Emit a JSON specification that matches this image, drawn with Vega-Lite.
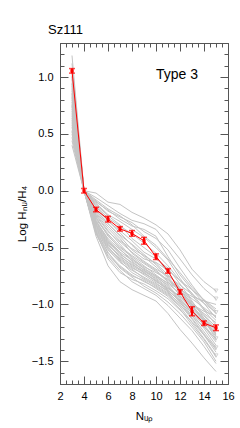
{
  "$schema": "https://vega.github.io/schema/vega-lite/v6.json",
  "width": 168,
  "height": 341,
  "autosize": {"type": "none"},
  "padding": {"left": 60, "top": 43, "right": 12, "bottom": 44},
  "background": "white",
  "config": {
    "font": "Liberation Sans",
    "view": {"stroke": null},
    "axis": {
      "domain": true,
      "domainColor": "#555555",
      "domainWidth": 1,
      "ticks": true,
      "tickColor": "#555555",
      "tickWidth": 1,
      "minExtent": 0,
      "zindex": 1,
      "labelColor": "#000000",
      "titleColor": "#000000",
      "labelFont": "Liberation Sans",
      "titleFont": "Liberation Sans",
      "labelFontSize": 11,
      "titleFontSize": 11.5,
      "titleFontWeight": "normal",
      "grid": false,
      "labelOverlap": false,
      "labelFlush": false
    }
  },
  "datasets": {
    "gray": [
      {"l":1,"n":3,"v":1.19},{"l":1,"n":4,"v":0},{"l":1,"n":5,"v":-0.02},{"l":1,"n":6,"v":-0.10},{"l":1,"n":7,"v":-0.12},{"l":1,"n":8,"v":-0.19},{"l":1,"n":9,"v":-0.24},{"l":1,"n":10,"v":-0.30},{"l":1,"n":11,"v":-0.38},{"l":1,"n":12,"v":-0.52},{"l":1,"n":13,"v":-0.69},{"l":1,"n":14,"v":-0.80},{"l":1,"n":15,"v":-0.88},
      {"l":2,"n":3,"v":1.12},{"l":2,"n":4,"v":0},{"l":2,"n":5,"v":-0.06},{"l":2,"n":6,"v":-0.13},{"l":2,"n":7,"v":-0.20},{"l":2,"n":8,"v":-0.26},{"l":2,"n":9,"v":-0.29},{"l":2,"n":10,"v":-0.34},{"l":2,"n":11,"v":-0.47},{"l":2,"n":12,"v":-0.60},{"l":2,"n":13,"v":-0.74},{"l":2,"n":14,"v":-0.86},{"l":2,"n":15,"v":-0.95},
      {"l":3,"n":3,"v":1.08},{"l":3,"n":4,"v":0},{"l":3,"n":5,"v":-0.09},{"l":3,"n":6,"v":-0.18},{"l":3,"n":7,"v":-0.23},{"l":3,"n":8,"v":-0.28},{"l":3,"n":9,"v":-0.36},{"l":3,"n":10,"v":-0.42},{"l":3,"n":11,"v":-0.52},{"l":3,"n":12,"v":-0.68},{"l":3,"n":13,"v":-0.83},{"l":3,"n":14,"v":-0.97},{"l":3,"n":15,"v":-1.08},
      {"l":4,"n":3,"v":0.72},{"l":4,"n":4,"v":0},{"l":4,"n":5,"v":-0.11},{"l":4,"n":6,"v":-0.21},{"l":4,"n":7,"v":-0.27},{"l":4,"n":8,"v":-0.34},{"l":4,"n":9,"v":-0.41},{"l":4,"n":10,"v":-0.50},{"l":4,"n":11,"v":-0.61},{"l":4,"n":12,"v":-0.77},{"l":4,"n":13,"v":-0.92},{"l":4,"n":14,"v":-1.05},{"l":4,"n":15,"v":-1.18},
      {"l":5,"n":3,"v":1.01},{"l":5,"n":4,"v":0},{"l":5,"n":5,"v":-0.13},{"l":5,"n":6,"v":-0.24},{"l":5,"n":7,"v":-0.31},{"l":5,"n":8,"v":-0.38},{"l":5,"n":9,"v":-0.46},{"l":5,"n":10,"v":-0.55},{"l":5,"n":11,"v":-0.66},{"l":5,"n":12,"v":-0.79},{"l":5,"n":13,"v":-0.90},{"l":5,"n":14,"v":-1.04},{"l":5,"n":15,"v":-1.14},
      {"l":6,"n":3,"v":0.66},{"l":6,"n":4,"v":0},{"l":6,"n":5,"v":-0.18},{"l":6,"n":6,"v":-0.29},{"l":6,"n":7,"v":-0.40},{"l":6,"n":8,"v":-0.52},{"l":6,"n":9,"v":-0.60},{"l":6,"n":10,"v":-0.63},{"l":6,"n":11,"v":-0.70},{"l":6,"n":12,"v":-0.79},{"l":6,"n":13,"v":-0.87},{"l":6,"n":14,"v":-0.96},{"l":6,"n":15,"v":-1.04},
      {"l":7,"n":3,"v":0.95},{"l":7,"n":4,"v":0},{"l":7,"n":5,"v":-0.20},{"l":7,"n":6,"v":-0.33},{"l":7,"n":7,"v":-0.44},{"l":7,"n":8,"v":-0.51},{"l":7,"n":9,"v":-0.57},{"l":7,"n":10,"v":-0.64},{"l":7,"n":11,"v":-0.74},{"l":7,"n":12,"v":-0.85},{"l":7,"n":13,"v":-0.98},{"l":7,"n":14,"v":-1.09},{"l":7,"n":15,"v":-1.20},
      {"l":8,"n":3,"v":0.58},{"l":8,"n":4,"v":0},{"l":8,"n":5,"v":-0.22},{"l":8,"n":6,"v":-0.36},{"l":8,"n":7,"v":-0.45},{"l":8,"n":8,"v":-0.54},{"l":8,"n":9,"v":-0.62},{"l":8,"n":10,"v":-0.69},{"l":8,"n":11,"v":-0.75},{"l":8,"n":12,"v":-0.83},{"l":8,"n":13,"v":-0.91},{"l":8,"n":14,"v":-0.99},{"l":8,"n":15,"v":-1.07},
      {"l":9,"n":3,"v":0.88},{"l":9,"n":4,"v":0},{"l":9,"n":5,"v":-0.24},{"l":9,"n":6,"v":-0.38},{"l":9,"n":7,"v":-0.49},{"l":9,"n":8,"v":-0.57},{"l":9,"n":9,"v":-0.64},{"l":9,"n":10,"v":-0.71},{"l":9,"n":11,"v":-0.80},{"l":9,"n":12,"v":-0.92},{"l":9,"n":13,"v":-1.05},{"l":9,"n":14,"v":-1.19},{"l":9,"n":15,"v":-1.33},
      {"l":10,"n":3,"v":0.53},{"l":10,"n":4,"v":0},{"l":10,"n":5,"v":-0.27},{"l":10,"n":6,"v":-0.42},{"l":10,"n":7,"v":-0.52},{"l":10,"n":8,"v":-0.60},{"l":10,"n":9,"v":-0.67},{"l":10,"n":10,"v":-0.72},{"l":10,"n":11,"v":-0.78},{"l":10,"n":12,"v":-0.86},{"l":10,"n":13,"v":-0.95},{"l":10,"n":14,"v":-1.03},{"l":10,"n":15,"v":-1.11},
      {"l":11,"n":3,"v":0.82},{"l":11,"n":4,"v":0},{"l":11,"n":5,"v":-0.28},{"l":11,"n":6,"v":-0.45},{"l":11,"n":7,"v":-0.56},{"l":11,"n":8,"v":-0.63},{"l":11,"n":9,"v":-0.70},{"l":11,"n":10,"v":-0.76},{"l":11,"n":11,"v":-0.83},{"l":11,"n":12,"v":-0.95},{"l":11,"n":13,"v":-1.08},{"l":11,"n":14,"v":-1.21},{"l":11,"n":15,"v":-1.36},
      {"l":12,"n":3,"v":0.50},{"l":12,"n":4,"v":0},{"l":12,"n":5,"v":-0.30},{"l":12,"n":6,"v":-0.47},{"l":12,"n":7,"v":-0.58},{"l":12,"n":8,"v":-0.65},{"l":12,"n":9,"v":-0.71},{"l":12,"n":10,"v":-0.77},{"l":12,"n":11,"v":-0.85},{"l":12,"n":12,"v":-0.93},{"l":12,"n":13,"v":-1.02},{"l":12,"n":14,"v":-1.12},{"l":12,"n":15,"v":-1.23},
      {"l":13,"n":3,"v":0.78},{"l":13,"n":4,"v":0},{"l":13,"n":5,"v":-0.32},{"l":13,"n":6,"v":-0.50},{"l":13,"n":7,"v":-0.60},{"l":13,"n":8,"v":-0.68},{"l":13,"n":9,"v":-0.73},{"l":13,"n":10,"v":-0.79},{"l":13,"n":11,"v":-0.87},{"l":13,"n":12,"v":-0.98},{"l":13,"n":13,"v":-1.12},{"l":13,"n":14,"v":-1.26},{"l":13,"n":15,"v":-1.40},
      {"l":14,"n":3,"v":0.47},{"l":14,"n":4,"v":0},{"l":14,"n":5,"v":-0.34},{"l":14,"n":6,"v":-0.52},{"l":14,"n":7,"v":-0.63},{"l":14,"n":8,"v":-0.70},{"l":14,"n":9,"v":-0.76},{"l":14,"n":10,"v":-0.82},{"l":14,"n":11,"v":-0.88},{"l":14,"n":12,"v":-0.96},{"l":14,"n":13,"v":-1.05},{"l":14,"n":14,"v":-1.15},{"l":14,"n":15,"v":-1.26},
      {"l":15,"n":3,"v":0.75},{"l":15,"n":4,"v":0},{"l":15,"n":5,"v":-0.36},{"l":15,"n":6,"v":-0.55},{"l":15,"n":7,"v":-0.66},{"l":15,"n":8,"v":-0.74},{"l":15,"n":9,"v":-0.80},{"l":15,"n":10,"v":-0.85},{"l":15,"n":11,"v":-0.92},{"l":15,"n":12,"v":-1.02},{"l":15,"n":13,"v":-1.16},{"l":15,"n":14,"v":-1.30},{"l":15,"n":15,"v":-1.45},
      {"l":16,"n":3,"v":0.40},{"l":16,"n":4,"v":0},{"l":16,"n":5,"v":-0.37},{"l":16,"n":6,"v":-0.60},{"l":16,"n":7,"v":-0.72},{"l":16,"n":8,"v":-0.78},{"l":16,"n":9,"v":-0.82},{"l":16,"n":10,"v":-0.88},{"l":16,"n":11,"v":-0.95},{"l":16,"n":12,"v":-1.05},{"l":16,"n":13,"v":-1.15},{"l":16,"n":14,"v":-1.27},{"l":16,"n":15,"v":-1.38},
      {"l":17,"n":3,"v":0.62},{"l":17,"n":4,"v":0},{"l":17,"n":5,"v":-0.40},{"l":17,"n":6,"v":-0.66},{"l":17,"n":7,"v":-0.80},{"l":17,"n":8,"v":-0.87},{"l":17,"n":9,"v":-0.92},{"l":17,"n":10,"v":-0.97},{"l":17,"n":11,"v":-1.08},{"l":17,"n":12,"v":-1.22},{"l":17,"n":13,"v":-1.34},{"l":17,"n":14,"v":-1.47},{"l":17,"n":15,"v":-1.59},
      {"l":18,"n":3,"v":0.70},{"l":18,"n":4,"v":0},{"l":18,"n":5,"v":-0.16},{"l":18,"n":6,"v":-0.27},{"l":18,"n":7,"v":-0.35},{"l":18,"n":8,"v":-0.44},{"l":18,"n":9,"v":-0.54},{"l":18,"n":10,"v":-0.60},{"l":18,"n":11,"v":-0.68},{"l":18,"n":12,"v":-0.82},{"l":18,"n":13,"v":-0.97},{"l":18,"n":14,"v":-1.12},{"l":18,"n":15,"v":-1.27},
      {"l":19,"n":3,"v":0.92},{"l":19,"n":4,"v":0},{"l":19,"n":5,"v":-0.14},{"l":19,"n":6,"v":-0.26},{"l":19,"n":7,"v":-0.37},{"l":19,"n":8,"v":-0.48},{"l":19,"n":9,"v":-0.58},{"l":19,"n":10,"v":-0.67},{"l":19,"n":11,"v":-0.77},{"l":19,"n":12,"v":-0.89},{"l":19,"n":13,"v":-1.02},{"l":19,"n":14,"v":-1.15},{"l":19,"n":15,"v":-1.28},
      {"l":20,"n":3,"v":0.85},{"l":20,"n":4,"v":0},{"l":20,"n":5,"v":-0.19},{"l":20,"n":6,"v":-0.31},{"l":20,"n":7,"v":-0.42},{"l":20,"n":8,"v":-0.55},{"l":20,"n":9,"v":-0.63},{"l":20,"n":10,"v":-0.70},{"l":20,"n":11,"v":-0.79},{"l":20,"n":12,"v":-0.88},{"l":20,"n":13,"v":-0.99},{"l":20,"n":14,"v":-1.10},{"l":20,"n":15,"v":-1.22},
      {"l":21,"n":3,"v":0.60},{"l":21,"n":4,"v":0},{"l":21,"n":5,"v":-0.23},{"l":21,"n":6,"v":-0.40},{"l":21,"n":7,"v":-0.50},{"l":21,"n":8,"v":-0.58},{"l":21,"n":9,"v":-0.66},{"l":21,"n":10,"v":-0.74},{"l":21,"n":11,"v":-0.82},{"l":21,"n":12,"v":-0.90},{"l":21,"n":13,"v":-1.00},{"l":21,"n":14,"v":-1.08},{"l":21,"n":15,"v":-1.16},
      {"l":22,"n":3,"v":0.98},{"l":22,"n":4,"v":0},{"l":22,"n":5,"v":-0.26},{"l":22,"n":6,"v":-0.43},{"l":22,"n":7,"v":-0.54},{"l":22,"n":8,"v":-0.61},{"l":22,"n":9,"v":-0.68},{"l":22,"n":10,"v":-0.75},{"l":22,"n":11,"v":-0.84},{"l":22,"n":12,"v":-0.97},{"l":22,"n":13,"v":-1.10},{"l":22,"n":14,"v":-1.24},{"l":22,"n":15,"v":-1.38},
      {"l":23,"n":3,"v":0.56},{"l":23,"n":4,"v":0},{"l":23,"n":5,"v":-0.29},{"l":23,"n":6,"v":-0.46},{"l":23,"n":7,"v":-0.59},{"l":23,"n":8,"v":-0.67},{"l":23,"n":9,"v":-0.74},{"l":23,"n":10,"v":-0.81},{"l":23,"n":11,"v":-0.89},{"l":23,"n":12,"v":-1.00},{"l":23,"n":13,"v":-1.13},{"l":23,"n":14,"v":-1.27},{"l":23,"n":15,"v":-1.42},
      {"l":24,"n":3,"v":0.80},{"l":24,"n":4,"v":0},{"l":24,"n":5,"v":-0.31},{"l":24,"n":6,"v":-0.49},{"l":24,"n":7,"v":-0.62},{"l":24,"n":8,"v":-0.72},{"l":24,"n":9,"v":-0.78},{"l":24,"n":10,"v":-0.84},{"l":24,"n":11,"v":-0.91},{"l":24,"n":12,"v":-1.01},{"l":24,"n":13,"v":-1.10},{"l":24,"n":14,"v":-1.20},{"l":24,"n":15,"v":-1.30},
      {"l":25,"n":3,"v":0.68},{"l":25,"n":4,"v":0},{"l":25,"n":5,"v":-0.35},{"l":25,"n":6,"v":-0.54},{"l":25,"n":7,"v":-0.68},{"l":25,"n":8,"v":-0.76},{"l":25,"n":9,"v":-0.84},{"l":25,"n":10,"v":-0.90},{"l":25,"n":11,"v":-0.98},{"l":25,"n":12,"v":-1.08},{"l":25,"n":13,"v":-1.20},{"l":25,"n":14,"v":-1.33},{"l":25,"n":15,"v":-1.50},
      {"l":26,"n":3,"v":1.04},{"l":26,"n":4,"v":0},{"l":26,"n":5,"v":-0.10},{"l":26,"n":6,"v":-0.17},{"l":26,"n":7,"v":-0.25},{"l":26,"n":8,"v":-0.31},{"l":26,"n":9,"v":-0.34},{"l":26,"n":10,"v":-0.40},{"l":26,"n":11,"v":-0.58},{"l":26,"n":12,"v":-0.74},{"l":26,"n":13,"v":-0.87},{"l":26,"n":14,"v":-0.99},{"l":26,"n":15,"v":-1.12},
      {"l":27,"n":3,"v":0.64},{"l":27,"n":4,"v":0},{"l":27,"n":5,"v":-0.21},{"l":27,"n":6,"v":-0.35},{"l":27,"n":7,"v":-0.47},{"l":27,"n":8,"v":-0.59},{"l":27,"n":9,"v":-0.69},{"l":27,"n":10,"v":-0.75},{"l":27,"n":11,"v":-0.81},{"l":27,"n":12,"v":-0.87},{"l":27,"n":13,"v":-0.93},{"l":27,"n":14,"v":-0.97},{"l":27,"n":15,"v":-1.00},
      {"l":28,"n":3,"v":0.90},{"l":28,"n":4,"v":0},{"l":28,"n":5,"v":-0.25},{"l":28,"n":6,"v":-0.39},{"l":28,"n":7,"v":-0.51},{"l":28,"n":8,"v":-0.62},{"l":28,"n":9,"v":-0.70},{"l":28,"n":10,"v":-0.78},{"l":28,"n":11,"v":-0.86},{"l":28,"n":12,"v":-0.94},{"l":28,"n":13,"v":-1.04},{"l":28,"n":14,"v":-1.13},{"l":28,"n":15,"v":-1.24},
      {"l":29,"n":3,"v":0.52},{"l":29,"n":4,"v":0},{"l":29,"n":5,"v":-0.33},{"l":29,"n":6,"v":-0.51},{"l":29,"n":7,"v":-0.61},{"l":29,"n":8,"v":-0.69},{"l":29,"n":9,"v":-0.77},{"l":29,"n":10,"v":-0.83},{"l":29,"n":11,"v":-0.90},{"l":29,"n":12,"v":-0.99},{"l":29,"n":13,"v":-1.07},{"l":29,"n":14,"v":-1.18},{"l":29,"n":15,"v":-1.31},
      {"l":30,"n":3,"v":0.76},{"l":30,"n":4,"v":0},{"l":30,"n":5,"v":-0.38},{"l":30,"n":6,"v":-0.58},{"l":30,"n":7,"v":-0.70},{"l":30,"n":8,"v":-0.80},{"l":30,"n":9,"v":-0.86},{"l":30,"n":10,"v":-0.92},{"l":30,"n":11,"v":-1.01},{"l":30,"n":12,"v":-1.12},{"l":30,"n":13,"v":-1.23},{"l":30,"n":14,"v":-1.37},{"l":30,"n":15,"v":-1.52},
      {"l":31,"n":3,"v":0.86},{"l":31,"n":4,"v":0},{"l":31,"n":5,"v":-0.12},{"l":31,"n":6,"v":-0.22},{"l":31,"n":7,"v":-0.30},{"l":31,"n":8,"v":-0.42},{"l":31,"n":9,"v":-0.50},{"l":31,"n":10,"v":-0.58},{"l":31,"n":11,"v":-0.72},{"l":31,"n":12,"v":-0.86},{"l":31,"n":13,"v":-1.00},{"l":31,"n":14,"v":-1.14},{"l":31,"n":15,"v":-1.30},
      {"l":32,"n":3,"v":0.74},{"l":32,"n":4,"v":0},{"l":32,"n":5,"v":-0.27},{"l":32,"n":6,"v":-0.44},{"l":32,"n":7,"v":-0.55},{"l":32,"n":8,"v":-0.64},{"l":32,"n":9,"v":-0.72},{"l":32,"n":10,"v":-0.79},{"l":32,"n":11,"v":-0.88},{"l":32,"n":12,"v":-0.97},{"l":32,"n":13,"v":-1.06},{"l":32,"n":14,"v":-1.16},{"l":32,"n":15,"v":-1.25},
      {"l":33,"n":3,"v":0.44},{"l":33,"n":4,"v":0},{"l":33,"n":5,"v":-0.37},{"l":33,"n":6,"v":-0.57},{"l":33,"n":7,"v":-0.67},{"l":33,"n":8,"v":-0.75},{"l":33,"n":9,"v":-0.79},{"l":33,"n":10,"v":-0.86},{"l":33,"n":11,"v":-0.93},{"l":33,"n":12,"v":-1.04},{"l":33,"n":13,"v":-1.18},{"l":33,"n":14,"v":-1.31},{"l":33,"n":15,"v":-1.46},
      {"l":34,"n":3,"v":1.00},{"l":34,"n":4,"v":0},{"l":34,"n":5,"v":-0.08},{"l":34,"n":6,"v":-0.16},{"l":34,"n":7,"v":-0.22},{"l":34,"n":8,"v":-0.30},{"l":34,"n":9,"v":-0.40},{"l":34,"n":10,"v":-0.48},{"l":34,"n":11,"v":-0.60},{"l":34,"n":12,"v":-0.72},{"l":34,"n":13,"v":-0.85},{"l":34,"n":14,"v":-0.96},{"l":34,"n":15,"v":-1.06},
      {"l":35,"n":3,"v":0.83},{"l":35,"n":4,"v":0},{"l":35,"n":5,"v":-0.30},{"l":35,"n":6,"v":-0.48},{"l":35,"n":7,"v":-0.57},{"l":35,"n":8,"v":-0.66},{"l":35,"n":9,"v":-0.72},{"l":35,"n":10,"v":-0.80},{"l":35,"n":11,"v":-0.86},{"l":35,"n":12,"v":-0.93},{"l":35,"n":13,"v":-1.00},{"l":35,"n":14,"v":-1.06},{"l":35,"n":15,"v":-1.10},
      {"l":36,"n":3,"v":0.94},{"l":36,"n":4,"v":0},{"l":36,"n":5,"v":-0.17},{"l":36,"n":6,"v":-0.29},{"l":36,"n":7,"v":-0.39},{"l":36,"n":8,"v":-0.47},{"l":36,"n":9,"v":-0.56},{"l":36,"n":10,"v":-0.65},{"l":36,"n":11,"v":-0.76},{"l":36,"n":12,"v":-0.88},{"l":36,"n":13,"v":-1.01},{"l":36,"n":14,"v":-1.14},{"l":36,"n":15,"v":-1.26}
    ],
    "tri": [
      {"n":15,"v":-0.88},{"n":15,"v":-0.95},{"n":15,"v":-1.07},{"n":15,"v":-1.30},{"n":15,"v":-1.38},{"n":15,"v":-1.45}
    ],
    "red": [
      {"n":3,"v":1.055,"lo":1.035,"hi":1.075},
      {"n":4,"v":0.0,"lo":-0.02,"hi":0.02},
      {"n":5,"v":-0.165,"lo":-0.185,"hi":-0.145},
      {"n":6,"v":-0.25,"lo":-0.275,"hi":-0.225},
      {"n":7,"v":-0.335,"lo":-0.355,"hi":-0.315},
      {"n":8,"v":-0.375,"lo":-0.4,"hi":-0.35},
      {"n":9,"v":-0.44,"lo":-0.47,"hi":-0.41},
      {"n":10,"v":-0.58,"lo":-0.605,"hi":-0.555},
      {"n":11,"v":-0.705,"lo":-0.725,"hi":-0.685},
      {"n":12,"v":-0.89,"lo":-0.91,"hi":-0.87},
      {"n":13,"v":-1.06,"lo":-1.1,"hi":-1.02},
      {"n":14,"v":-1.165,"lo":-1.185,"hi":-1.145},
      {"n":15,"v":-1.205,"lo":-1.23,"hi":-1.18}
    ],
    "lab": [
      {"n":13.5,"v":0.985,"t":"Type 3"}
    ],
    "ttl": [
      {"n":1,"v":1.38,"t":"Sz111"}
    ]
  },
  "resolve": {"axis": {"x": "independent", "y": "independent"}},
  "layer": [
    {
      "data": {"name": "gray"},
      "mark": {"type": "line", "color": "#c4c4c4", "strokeWidth": 1},
      "encoding": {
        "detail": {"field": "l", "type": "nominal"},
        "x": {
          "field": "n", "type": "quantitative",
          "scale": {"domain": [2, 16], "nice": false, "zero": false},
          "axis": {
            "orient": "bottom",
            "title": "Nᵤₚ",
            "titlePadding": 9,
            "values": [2,4,6,8,10,12,14,16],
            "format": "d",
            "tickSize": -8,
            "labelPadding": 14
          }
        },
        "y": {
          "field": "v", "type": "quantitative",
          "scale": {"domain": [-1.7, 1.3], "nice": false, "zero": false},
          "axis": {
            "orient": "left",
            "title": "Log Hₙᵤ/H₄",
            "titlePadding": 4,
            "values": [-1.5,-1.0,-0.5,0,0.5,1.0],
            "format": ".1f",
            "tickSize": -8,
            "labelPadding": 15
          }
        }
      }
    },
    {
      "data": {"name": "tri"},
      "mark": {"type": "point", "shape": "triangle-down", "size": 16, "filled": false, "color": "#c4c4c4", "strokeWidth": 1},
      "encoding": {
        "x": {
          "field": "n", "type": "quantitative",
          "scale": {"domain": [2, 16], "nice": false, "zero": false},
          "axis": {
            "orient": "bottom", "title": null, "labels": false, "tickSize": -4,
            "values": [2.5,3,3.5,4.5,5,5.5,6.5,7,7.5,8.5,9,9.5,10.5,11,11.5,12.5,13,13.5,14.5,15,15.5]
          }
        },
        "y": {
          "field": "v", "type": "quantitative",
          "scale": {"domain": [-1.7, 1.3], "nice": false, "zero": false},
          "axis": {
            "orient": "left", "title": null, "labels": false, "tickSize": -4,
            "values": [-1.6,-1.4,-1.3,-1.2,-1.1,-0.9,-0.8,-0.7,-0.6,-0.4,-0.3,-0.2,-0.1,0.1,0.2,0.3,0.4,0.6,0.7,0.8,0.9,1.1,1.2]
          }
        }
      }
    },
    {
      "data": {"name": "red"},
      "mark": {"type": "line", "color": "#ff0000", "strokeWidth": 1},
      "encoding": {
        "x": {
          "field": "n", "type": "quantitative",
          "scale": {"domain": [2, 16], "nice": false, "zero": false},
          "axis": {"orient": "top", "title": null, "labels": false, "tickSize": -8, "values": [2,4,6,8,10,12,14,16]}
        },
        "y": {
          "field": "v", "type": "quantitative",
          "scale": {"domain": [-1.7, 1.3], "nice": false, "zero": false},
          "axis": {"orient": "right", "title": null, "labels": false, "tickSize": -8, "values": [-1.5,-1.0,-0.5,0,0.5,1.0]}
        }
      }
    },
    {
      "data": {"name": "red"},
      "mark": {"type": "rule", "color": "#ff0000", "strokeWidth": 2},
      "encoding": {
        "x": {
          "field": "n", "type": "quantitative",
          "scale": {"domain": [2, 16], "nice": false, "zero": false},
          "axis": {
            "orient": "top", "title": null, "labels": false, "tickSize": -4,
            "values": [2.5,3,3.5,4.5,5,5.5,6.5,7,7.5,8.5,9,9.5,10.5,11,11.5,12.5,13,13.5,14.5,15,15.5]
          }
        },
        "y": {
          "field": "lo", "type": "quantitative",
          "scale": {"domain": [-1.7, 1.3], "nice": false, "zero": false},
          "axis": {
            "orient": "right", "title": null, "labels": false, "tickSize": -4,
            "values": [-1.6,-1.4,-1.3,-1.2,-1.1,-0.9,-0.8,-0.7,-0.6,-0.4,-0.3,-0.2,-0.1,0.1,0.2,0.3,0.4,0.6,0.7,0.8,0.9,1.1,1.2]
          }
        },
        "y2": {"field": "hi"}
      }
    },
    {
      "data": {"name": "red"},
      "mark": {"type": "tick", "orient": "horizontal", "color": "#ff0000", "size": 6, "thickness": 1.5},
      "encoding": {
        "x": {"field": "n", "type": "quantitative", "scale": {"domain": [2, 16], "nice": false, "zero": false}, "axis": null},
        "y": {"field": "lo", "type": "quantitative", "scale": {"domain": [-1.7, 1.3], "nice": false, "zero": false}, "axis": null}
      }
    },
    {
      "data": {"name": "red"},
      "mark": {"type": "tick", "orient": "horizontal", "color": "#ff0000", "size": 6, "thickness": 1.5},
      "encoding": {
        "x": {"field": "n", "type": "quantitative", "scale": {"domain": [2, 16], "nice": false, "zero": false}, "axis": null},
        "y": {"field": "hi", "type": "quantitative", "scale": {"domain": [-1.7, 1.3], "nice": false, "zero": false}, "axis": null}
      }
    },
    {
      "data": {"name": "red"},
      "mark": {"type": "point", "shape": "square", "size": 10, "filled": true, "color": "#ff0000", "opacity": 1},
      "encoding": {
        "x": {"field": "n", "type": "quantitative", "scale": {"domain": [2, 16], "nice": false, "zero": false}, "axis": null},
        "y": {"field": "v", "type": "quantitative", "scale": {"domain": [-1.7, 1.3], "nice": false, "zero": false}, "axis": null}
      }
    },
    {
      "data": {"name": "lab"},
      "mark": {"type": "text", "align": "right", "baseline": "alphabetic", "fontSize": 14, "font": "Liberation Sans", "color": "#000000"},
      "encoding": {
        "x": {"field": "n", "type": "quantitative", "scale": {"domain": [2, 16], "nice": false, "zero": false}, "axis": null},
        "y": {"field": "v", "type": "quantitative", "scale": {"domain": [-1.7, 1.3], "nice": false, "zero": false}, "axis": null},
        "text": {"field": "t"}
      }
    },
    {
      "data": {"name": "ttl"},
      "mark": {"type": "text", "align": "left", "baseline": "alphabetic", "fontSize": 13, "font": "Liberation Sans", "color": "#000000", "clip": false},
      "encoding": {
        "x": {"field": "n", "type": "quantitative", "scale": {"domain": [2, 16], "nice": false, "zero": false}, "axis": null},
        "y": {"field": "v", "type": "quantitative", "scale": {"domain": [-1.7, 1.3], "nice": false, "zero": false}, "axis": null},
        "text": {"field": "t"}
      }
    }
  ]
}
